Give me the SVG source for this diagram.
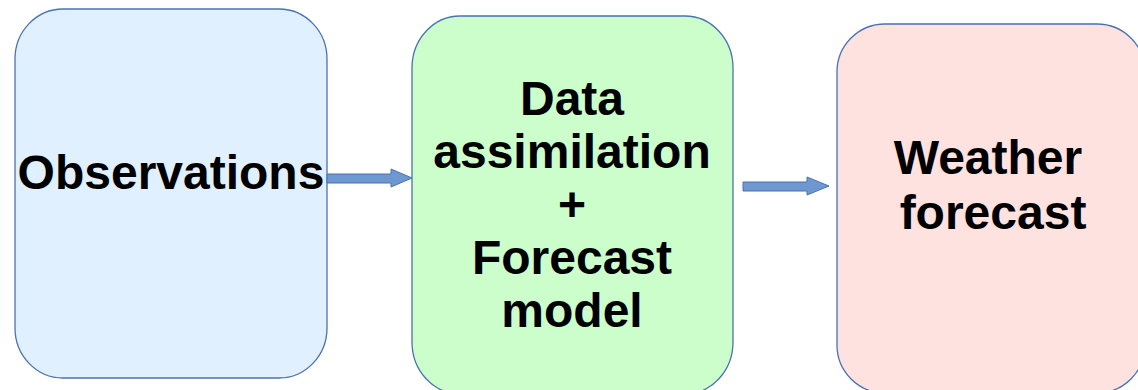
<svg xmlns="http://www.w3.org/2000/svg" width="1138" height="390" viewBox="0 0 1138 390">
  <defs>
    <style>
      .box { stroke: #4a72b0; stroke-width: 1.3; }
      .label { font-family: "Liberation Sans", Arial, sans-serif; font-weight: bold; font-size: 48px; fill: #000; text-anchor: middle; }
      .flow { fill: #6d98d0; stroke: #4a72b0; stroke-width: 1; }
    </style>
  </defs>
  <rect width="1138" height="390" fill="#ffffff"/>

  <g id="observations">
    <rect class="box" x="15" y="9" width="312" height="369" rx="48" ry="50" fill="#e0f0fe"/>
    <text class="label" x="171" y="189" font-size="48.5">Observations</text>
  </g>

  <g id="assimilation">
    <rect class="box" x="412" y="16" width="321" height="378" rx="48" ry="52" fill="#ccfecc"/>
    <text class="label" x="572" y="115">Data</text>
    <text class="label" x="572" y="168">assimilation</text>
    <text class="label" x="572" y="221">+</text>
    <text class="label" x="572" y="274">Forecast</text>
    <text class="label" x="572" y="327">model</text>
  </g>

  <g id="forecast">
    <rect class="box" x="837" y="24" width="308" height="369" rx="48" ry="48" fill="#fee2df"/>
    <text class="label" x="988" y="174" font-size="47">Weather</text>
    <text class="label" x="993" y="229" font-size="47">forecast</text>
  </g>

  <g id="connectors">
    <polygon class="flow" points="327,174 391,174 391,169 412,178 391,187 391,183 327,183"/>
    <polygon class="flow" points="743,182 807,182 807,177 829,186 807,195 807,191 743,191"/>
  </g>
</svg>
